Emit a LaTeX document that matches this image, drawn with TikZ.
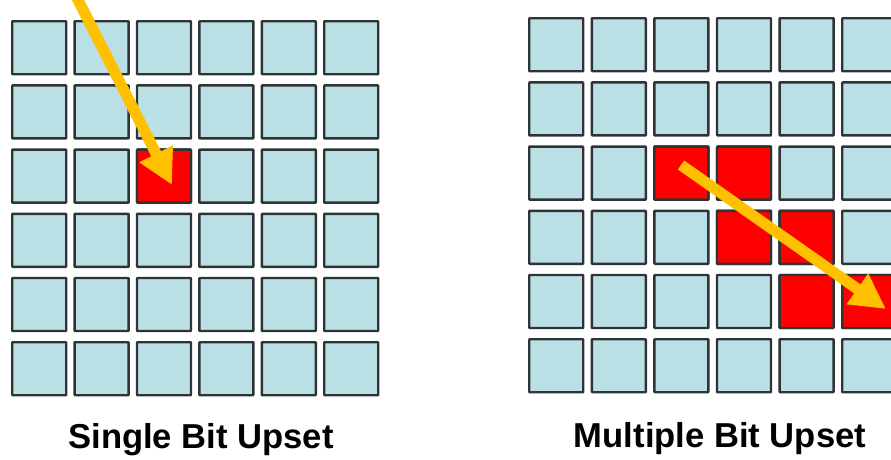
\documentclass[tikz,border=0pt]{standalone}
\usepackage{fontspec}
\setmainfont{Liberation Sans}
\usetikzlibrary{arrows.meta}
\definecolor{cellblue}{HTML}{BAE0E5}
\definecolor{cellred}{HTML}{FF0000}
\definecolor{raygold}{HTML}{FFC000}
\definecolor{celledge}{HTML}{2E3436}
\begin{document}
\begin{tikzpicture}[x=1pt,y=-1pt,
  cellbox/.style={draw=celledge,line width=2.4pt,fill=cellblue,minimum width=54pt,minimum height=53pt,inner sep=0pt,anchor=north west,rounded corners=0.6pt},
  hitbox/.style={cellbox,fill=cellred},
  ray/.style={draw=raygold,line width=11pt,-{Triangle[length=35pt,width=35pt]}},
  caption/.style={font=\bfseries\fontsize{34.6}{40}\selectfont,anchor=base}]
\useasboundingbox (0,0) rectangle (891,459);
\clip (0,0) rectangle (891,459);
% left grid
\foreach \r in {0,...,5}{
  \foreach \c in {0,...,5}{
    \node[cellbox] (L-\r-\c) at ({11+62.4*\c},{20+64.2*\r}) {};
  }
}
\node[hitbox] (L-2-2) at ({11+62.4*2},{20+64.2*2}) {};
% right grid
\foreach \r in {0,...,5}{
  \foreach \c in {0,...,5}{
    \node[cellbox] (R-\r-\c) at ({528+62.6*\c},{17+64.2*\r}) {};
  }
}
\foreach \r/\c in {2/2,2/3,3/3,3/4,4/4,4/5}{
  \node[hitbox] (R-\r-\c) at ({528+62.6*\c},{17+64.2*\r}) {};
}
% rays
\coordinate (s1) at (76,-4);
\coordinate (t1) at (172,185);
\coordinate (s2) at (681,165);
\coordinate (t2) at (886,309);
\draw[ray] (s1) -- (t1);
\draw[ray] (s2) -- (t2);
% captions
\node[caption] (cap1) at (201,448) {Single Bit Upset};
\node[caption] (cap2) at (720,447) {Multiple Bit Upset};
\end{tikzpicture}
\end{document}
